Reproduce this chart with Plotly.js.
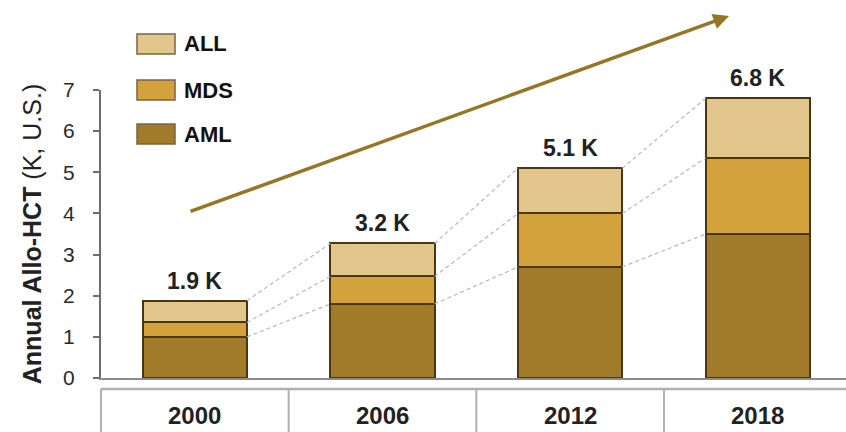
<!DOCTYPE html>
<html>
<head>
<meta charset="utf-8">
<script src="https://cdn.plot.ly/plotly-3.0.1.min.js"></script>
<style>html,body{margin:0;padding:0;background:#fff;}#chart{width:846px;height:432px;}</style>
</head>
<body>
<div id="chart"></div>
<script>
// ---- data ----
var categories = ["2000", "2006", "2012", "2018"];
var amlValues = [1.0, 1.8, 2.7, 3.5];
var mdsValues = [0.35, 0.67, 1.3, 1.85];
var allValues = [0.53, 0.8, 1.1, 1.45];
var totalLabels = ["1.9 K", "3.2 K", "5.1 K", "6.8 K"];
var seriesNames = ["AML", "MDS", "ALL"];
var yTickVals = [0, 1, 2, 3, 4, 5, 6, 7];

// ---- styles ----
var colors = {AML: "#A27B2A", MDS: "#D3A23D", ALL: "#E3C68C"};
var outline = "#4A3610";
var barWidth = 0.555;
var W = 846, H = 432, mL = 101, mR = 0, mT = 90, mB = 54;
var xRange = [-0.5, 3.47];
var plotW = W - mL - mR, plotH = H - mT - mB;
function px(x) { return (x - mL) / plotW; }
function py(y) { return (H - mB - y) / plotH; }
function dataToPaperX(v) { return (v - xRange[0]) / (xRange[1] - xRange[0]); }

var xIdx = categories.map(function (_, i) { return i; });
var valuesBy = {AML: amlValues, MDS: mdsValues, ALL: allValues};

var traces = [];
seriesNames.forEach(function (n) {
  traces.push({
    type: "bar", x: xIdx, y: valuesBy[n], name: n, width: barWidth,
    marker: {color: colors[n], line: {color: outline, width: 2}},
    hoverinfo: "skip", showlegend: false
  });
});

// cumulative tops for dashed connectors
var cum = [];
var running = categories.map(function () { return 0; });
seriesNames.forEach(function (n) {
  running = running.map(function (r, i) { return r + valuesBy[n][i]; });
  cum.push(running.slice());
});
cum.forEach(function (level) {
  var xs = [], ys = [];
  for (var i = 0; i < categories.length - 1; i++) {
    xs.push(xIdx[i] + barWidth / 2, xIdx[i + 1] - barWidth / 2, null);
    ys.push(level[i], level[i + 1], null);
  }
  traces.push({
    type: "scatter", mode: "lines", x: xs, y: ys, showlegend: false, hoverinfo: "skip",
    line: {color: "#B8B8B8", width: 1.2, dash: "4px,3px"}
  });
});

var shapes = [];
var annotations = [];

// total labels above bars
categories.forEach(function (c, i) {
  annotations.push({
    x: xIdx[i], y: cum[cum.length - 1][i], xref: "x", yref: "y",
    text: "<b>" + totalLabels[i] + "</b>", showarrow: false,
    xanchor: "center", yanchor: "bottom", yshift: 5,
    font: {family: "Liberation Sans, Arial, sans-serif", size: 23, color: "#222"}
  });
});

// category table below axis
var tableTop = py(389), tableBot = py(440);
shapes.push({type: "line", xref: "paper", yref: "paper", x0: 0, x1: 1, y0: tableTop, y1: tableTop,
  line: {color: "#B0B0B0", width: 2.5}});
for (var k = 0; k < categories.length; k++) {
  var sx = dataToPaperX(xIdx[k] - 0.5);
  shapes.push({type: "line", xref: "paper", yref: "paper", x0: sx, x1: sx, y0: tableTop, y1: tableBot,
    line: {color: "#B0B0B0", width: 2}});
  annotations.push({
    x: dataToPaperX(xIdx[k]), y: py(415), xref: "paper", yref: "paper",
    text: "<b>" + categories[k] + "</b>", showarrow: false, xanchor: "center", yanchor: "middle",
    font: {family: "Liberation Sans, Arial, sans-serif", size: 24, color: "#222"}
  });
}

// manual legend (top to bottom: ALL, MDS, AML)
var legendOrder = seriesNames.slice().reverse();
var legendTop = [34, 80, 124];
legendOrder.forEach(function (n, j) {
  shapes.push({type: "rect", xref: "paper", yref: "paper",
    x0: px(137), x1: px(175), y0: py(legendTop[j]), y1: py(legendTop[j] + 20),
    fillcolor: colors[n], line: {color: "#7A6440", width: 1.5}});
  annotations.push({
    x: px(182), y: py(legendTop[j] + 10), xref: "paper", yref: "paper",
    text: "<b>" + n + "</b>", showarrow: false, xanchor: "left", yanchor: "middle",
    font: {family: "Liberation Sans, Arial, sans-serif", size: 22, color: "#111"}
  });
});

// growth arrow
annotations.push({
  x: px(729), y: py(16), xref: "paper", yref: "paper", text: "",
  showarrow: true, arrowhead: 2, arrowsize: 0.9, arrowwidth: 3.5, arrowcolor: "#967624",
  ax: 189 - 729, ay: 212 - 16, standoff: 0
});

var layout = {
  width: W, height: H,
  margin: {l: mL, r: mR, t: mT, b: mB, pad: 0},
  paper_bgcolor: "#fff", plot_bgcolor: "#fff",
  barmode: "stack", showlegend: false,
  font: {family: "Liberation Sans, Arial, sans-serif"},
  xaxis: {
    type: "linear", range: xRange, showgrid: false, zeroline: false,
    showticklabels: false, ticks: "",
    showline: true, linecolor: "#8C8C8C", linewidth: 2, fixedrange: true
  },
  yaxis: {
    range: [0, 7], showgrid: false, zeroline: false,
    tickvals: yTickVals, ticks: "outside", ticklen: 6, tickwidth: 2, tickcolor: "#6E6E6E",
    showline: true, linecolor: "#6E6E6E", linewidth: 2,
    ticklabelstandoff: 14,
    tickfont: {family: "Liberation Sans, Arial, sans-serif", size: 21, color: "#2a2a2a"},
    title: {text: "<b>Annual Allo-HCT</b> (K, U.S.)", standoff: 14,
      font: {family: "Liberation Sans, Arial, sans-serif", size: 25, color: "#222"}},
    fixedrange: true
  },
  shapes: shapes,
  annotations: annotations
};

Plotly.newPlot("chart", traces, layout, {staticPlot: true, displayModeBar: false});
</script>
</body>
</html>
